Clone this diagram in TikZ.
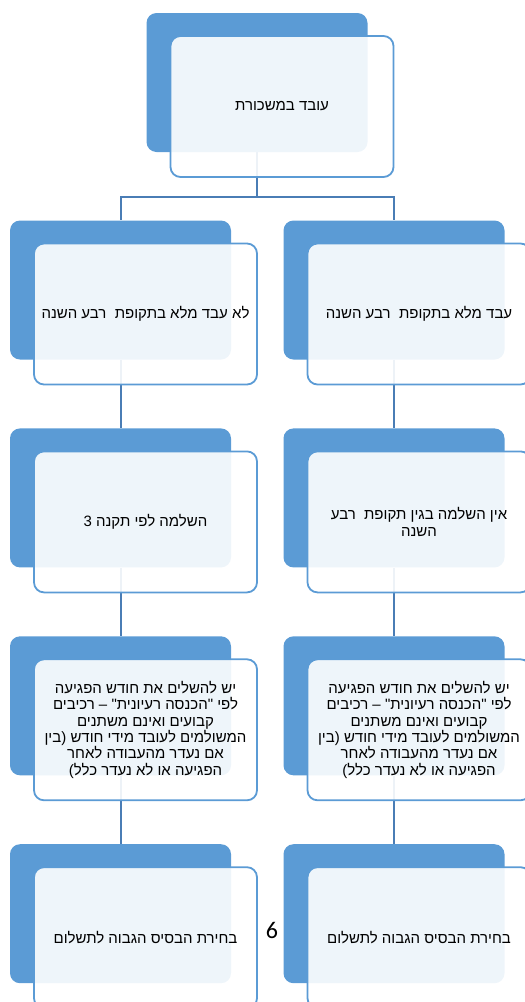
\documentclass[tikz,border=0pt]{standalone}
\usepackage{fontspec}
\setmainfont{Liberation Sans}
\newfontfamily\hebfont[Script=Hebrew]{Liberation Sans}
\newfontfamily\pagefont{Carlito}
\TeXXeTstate=1
\usetikzlibrary{positioning,calc}
\definecolor{boxblue}{HTML}{5B9BD5}
\definecolor{linkblue}{HTML}{4A7DB5}
\newcommand{\heb}[1]{{\hebfont\beginR #1\endR}}
\pgfmathsetmacro{\boxgap}{68.5}
\pgfdeclarelayer{background}
\pgfsetlayers{background,main}
\tikzset{
  back/.style={fill=boxblue, rounded corners=10pt, minimum width=221pt,
    minimum height=139pt, inner sep=0pt},
  front/.style={draw=boxblue, line width=1.8pt, fill=white, fill opacity=0.9,
    text opacity=1, rounded corners=10pt, minimum width=223pt,
    minimum height=141pt, inner sep=0pt, align=center,
    font=\fontsize{15}{16.4}\selectfont},
  link/.style={draw=linkblue, line width=2pt},
}

\begin{document}
\begin{tikzpicture}[x=1pt, y=1pt]
    \useasboundingbox (0,0) rectangle (525,-1002);
    \clip (0,0) rectangle (525,-1002);
    % back boxes
    % root
    \node[back] (wage_back) at (257,-82.5) {};
    % left column
    \node[back] (notfull_back) at (120.5,-290) {};
    \node[back, below=\boxgap pt of notfull_back] (topup_back) {};
    \node[back, below=\boxgap pt of topup_back] (monthL_back) {};
    \node[back, below=\boxgap pt of monthL_back] (baseL_back) {};
    % right column
    \node[back] (full_back) at (394,-290) {};
    \node[back, below=\boxgap pt of full_back] (nopay_back) {};
    \node[back, below=\boxgap pt of nopay_back] (monthR_back) {};
    \node[back, below=\boxgap pt of monthR_back] (baseR_back) {};
    % front boxes with text
    \node[front] (wage) at ($(wage_back)+(25,-24)$) {\heb{עובד במשכורת}};
    \node[front] (notfull) at ($(notfull_back)+(25,-24)$)
        {\heb{לא עבד מלא בתקופת~ רבע השנה}};
    \node[front] (full) at ($(full_back)+(25,-24)$)
        {\heb{עבד מלא בתקופת~ רבע השנה}};
    \node[front] (topup) at ($(topup_back)+(25,-24)$)
        {\heb{השלמה לפי תקנה 3}};
    \node[front] (nopay) at ($(nopay_back)+(25,-24)$)
        {\heb{אין השלמה בגין תקופת~ רבע}\\\heb{השנה}};
    \node[front] (monthL) at ($(monthL_back)+(25,-24)$)
        {\heb{יש להשלים את חודש הפגיעה}\\
         \heb{לפי "הכנסה רעיונית" – רכיבים}\\
         \heb{קבועים ואינם משתנים}\\
         \heb{המשולמים לעובד מידי חודש \hbox{(}בין}\\
         \heb{אם נעדר מהעבודה לאחר}\\
         \heb{הפגיעה או לא נעדר כלל\hbox{)}}};
    \node[front] (monthR) at ($(monthR_back)+(25,-24)$)
        {\heb{יש להשלים את חודש הפגיעה}\\
         \heb{לפי "הכנסה רעיונית" – רכיבים}\\
         \heb{קבועים ואינם משתנים}\\
         \heb{המשולמים לעובד מידי חודש \hbox{(}בין}\\
         \heb{אם נעדר מהעבודה לאחר}\\
         \heb{הפגיעה או לא נעדר כלל\hbox{)}}};
    \node[front] (baseL) at ($(baseL_back)+(25,-24)$)
        {\heb{בחירת הבסיס הגבוה לתשלום}};
    \node[front] (baseR) at ($(baseR_back)+(25,-24)$)
        {\heb{בחירת הבסיס הגבוה לתשלום}};
    % page number
    \node[font=\pagefont\fontsize{24}{24}\selectfont] (pagenum) at (272,-930) {6};
    % connectors, drawn behind the boxes
    \begin{pgfonlayer}{background}
        \coordinate (fork) at (257,-197);
        \draw[link] (wage_back) -- (fork) -| (notfull_back);
        \draw[link] (fork) -| (full_back);
        \draw[link] (notfull_back) -- (topup_back) -- (monthL_back) -- (baseL_back);
        \draw[link] (full_back) -- (nopay_back) -- (monthR_back) -- (baseR_back);
    \end{pgfonlayer}
\end{tikzpicture}
\end{document}
